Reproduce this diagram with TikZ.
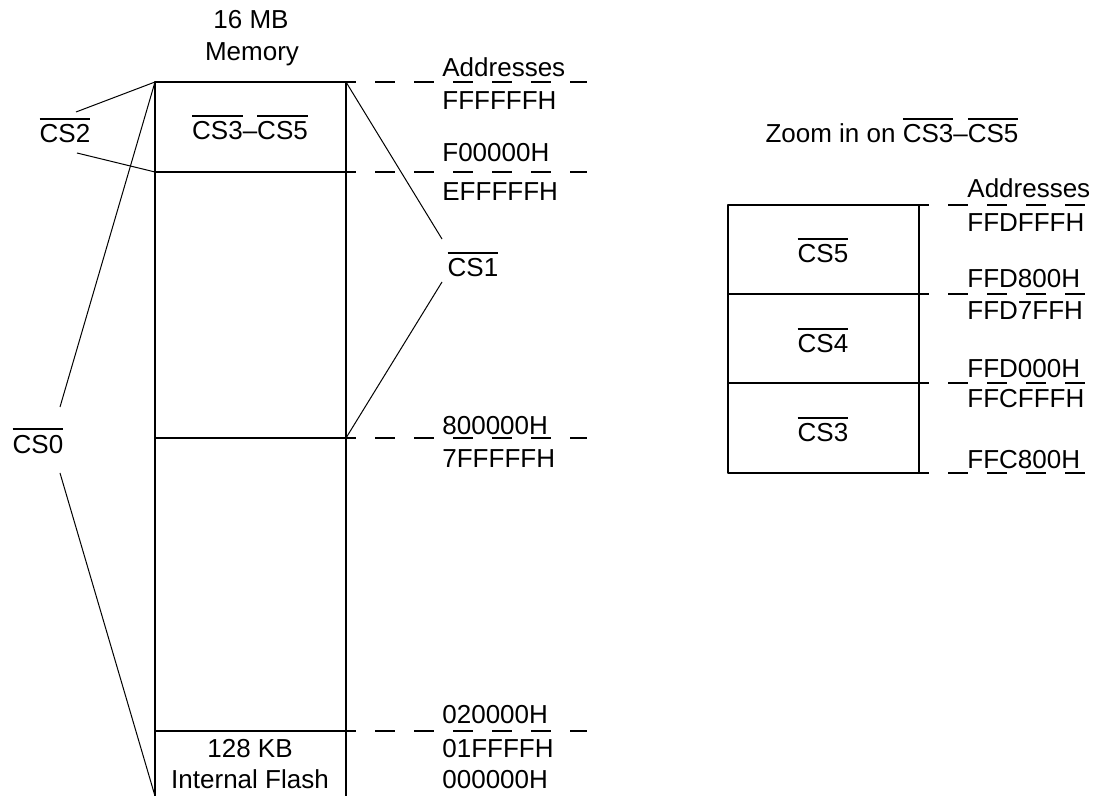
\documentclass[tikz,border=0pt]{standalone}
\usepackage{fontspec}
\setmainfont{Liberation Sans}
\usetikzlibrary{positioning}

\newlength{\barwd}
\newcommand{\csbar}[1]{\settowidth{\barwd}{#1}\rlap{\rule[11.6pt]{\barwd}{0.75pt}}#1}

\tikzset{
  lbl/.style={inner sep=0pt, anchor=base, font=\fontsize{13}{15.6}\selectfont},
  addr/.style={lbl, anchor=base west},
  memline/.style={black, line width=1pt},
  thinline/.style={black, line width=0.5pt},
  addrline/.style={black, line width=1pt, dash pattern=on 10pt off 9.5pt, dash phase=5pt}
}

\begin{document}
\begin{tikzpicture}[x=0.5pt, y=-0.5pt, line join=round]
    \useasboundingbox (0,0) rectangle (1103,796);

    % 16 MB map corners and splits
    \coordinate (mtl) at (155,82);
    \coordinate (mtr) at (346,82);
    \coordinate (mbl) at (155,796);
    \coordinate (mbr) at (346,796);
    \coordinate (sal) at (155,172);
    \coordinate (sar) at (346,172);
    \coordinate (sbl) at (155,438);
    \coordinate (sbr) at (346,438);
    \coordinate (scl) at (155,731);
    \coordinate (scr) at (346,731);

    % Memory outline
    \draw[memline] (mbl) -- (mtl) -- (mtr) -- (mbr);
    \draw[memline] (sal) -- (sar);
    \draw[memline] (sbl) -- (sbr);
    \draw[memline] (scl) -- (scr);

    % Address marks
    \foreach \c in {mtr, sar, sbr, scr}
      \draw[addrline] (\c) -- ++(241,0);

    % Titles and block texts
    \node[lbl] (msize) at (251,29) {16 MB};
    \node[lbl] (mname) at (252,61) {Memory};
    \node[lbl] (topcs) at (250,140) {\csbar{CS3}--\csbar{CS5}};
    \node[lbl] (flsize) at (250,757) {128 KB};
    \node[lbl] (flname) at (250,788) {Internal Flash};

    % Chip selects
    \node[lbl] (cstwo) at (65,143) {\csbar{CS2}};
    \node[lbl] (cszero) at (38,453) {\csbar{CS0}};
    \node[lbl] (csone) at (473,277) {\csbar{CS1}};

    \coordinate (cstwoa) at (76,112);
    \coordinate (cstwob) at (77,153);
    \coordinate (cszeroa) at (60,407);
    \coordinate (cszerob) at (60,473);
    \coordinate (csonea) at (442,239);
    \coordinate (csoneb) at (442,282);

    \draw[thinline] (mtl) -- (cstwoa);
    \draw[thinline] (sal) -- (cstwob);
    \draw[thinline] (mtl) -- (cszeroa);
    \draw[thinline] (cszerob) -- (mbl);
    \draw[thinline] (mtr) -- (csonea);
    \draw[thinline] (csoneb) -- (sbr);

    % Addresses
    \node[addr] (adhead) at (442,77) {Addresses};
    \node[addr] (ada) at (442,110) {FFFFFFH};
    \node[addr] (adb) at (442,162) {F00000H};
    \node[addr] (adc) at (442,201) {EFFFFFH};
    \node[addr] (add) at (442,435) {800000H};
    \node[addr] (ade) at (442,467) {7FFFFFH};
    \node[addr] (adf) at (442,723) {020000H};
    \node[addr] (adg) at (442,757) {01FFFFH};
    \node[addr] (adh) at (442,788) {000000H};

    % Zoom on CS3-CS5
    \node[lbl] (zttl) at (892,143) {Zoom in on \csbar{CS3}--\csbar{CS5}};

    \coordinate (ztl) at (728,205);
    \coordinate (ztr) at (919,205);
    \coordinate (zal) at (728,294);
    \coordinate (zar) at (919,294);
    \coordinate (zbl) at (728,383);
    \coordinate (zbr) at (919,383);
    \coordinate (zdl) at (728,473);
    \coordinate (zdr) at (919,473);

    \draw[memline] (ztl) rectangle (zdr);
    \draw[memline] (zal) -- (zar);
    \draw[memline] (zbl) -- (zbr);

    \foreach \c in {ztr, zar, zbr, zdr}
      \draw[addrline] (\c) -- ++(184,0);

    \node[lbl] (csfive) at (823,263) {\csbar{CS5}};
    \node[lbl] (csfour) at (823,353) {\csbar{CS4}};
    \node[lbl] (csthree) at (823,442) {\csbar{CS3}};

    \node[addr] (zhead) at (967,198) {Addresses};
    \node[addr] (zda) at (967,232) {FFDFFFH};
    \node[addr] (zdb) at (967,288) {FFD800H};
    \node[addr] (zdc) at (967,320) {FFD7FFH};
    \node[addr] (zdd) at (967,378) {FFD000H};
    \node[addr] (zde) at (967,408) {FFCFFFH};
    \node[addr] (zdf) at (967,468) {FFC800H};
  \end{tikzpicture}
\end{document}
